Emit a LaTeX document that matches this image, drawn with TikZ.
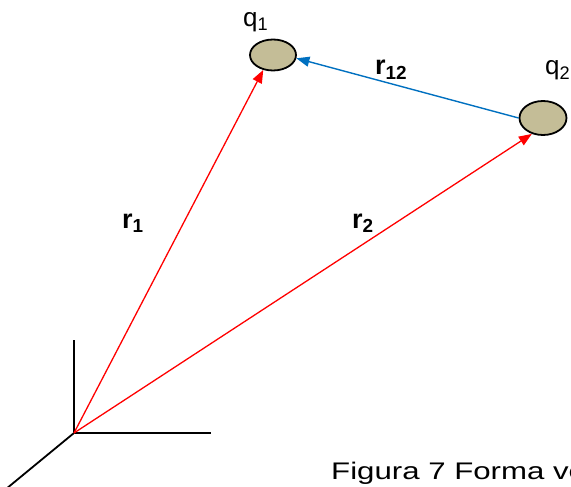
\documentclass[tikz,border=0pt]{standalone}
\usepackage{fontspec}
\setmainfont{Liberation Sans}
\usetikzlibrary{arrows.meta,shapes.geometric}
\definecolor{chargefill}{RGB}{196,189,151}
\definecolor{vecblue}{RGB}{0,112,192}
\begin{document}
\begin{tikzpicture}[x=1pt,y=-1pt,
  charge/.style={ellipse,draw=black,line width=1.8pt,fill=chargefill,inner sep=0pt},
  axis/.style={black,line width=1.8pt},
  posvec/.style={red,line width=1.3pt,-{Triangle[length=13pt,width=10pt]}},
  relvec/.style={vecblue,line width=1.4pt,-{Triangle[length=13pt,width=10pt]}},
  lbl/.style={font=\fontsize{26}{28}\selectfont,inner sep=0pt,anchor=base west},
  blbl/.style={font=\fontsize{27}{29}\selectfont\bfseries,inner sep=0pt,anchor=base west}]
\useasboundingbox (0,0) rectangle (571,487);
\clip (0,0) rectangle (571,487);
\coordinate (O) at (74,433);
\coordinate (zend) at (74,340);
\coordinate (xend) at (211,433);
\coordinate (yend) at (6,489);
\draw[axis] (O) -- (zend);
\draw[axis] (O) -- (xend);
\draw[axis] (O) -- (yend);
\node[charge,minimum width=46pt,minimum height=31pt] (q1) at (273,55) {};
\node[charge,minimum width=47pt,minimum height=34pt] (q2) at (543,118) {};
\node[lbl] (q1l) at (243,27) {q\textsubscript{1}};
\node[lbl] (q2l) at (545,75) {q\textsubscript{2}};
\draw[posvec] (O) -- (q1.237);
\draw[posvec] (O) -- (q2.235);
\draw[relvec] (q2.west) -- (q1.-8);
\node[blbl] (r1) at (122,228) {r\textsubscript{1}};
\node[blbl] (r2) at (352,228) {r\textsubscript{2}};
\node[blbl] (r12) at (375,75) {r\textsubscript{12}};
\node[font=\fontsize{24}{26}\selectfont,anchor=base west,inner sep=0pt] (cap) at (331,479) {\scalebox{1.3}[1]{Figura 7 Forma ve}};
\end{tikzpicture}
\end{document}
